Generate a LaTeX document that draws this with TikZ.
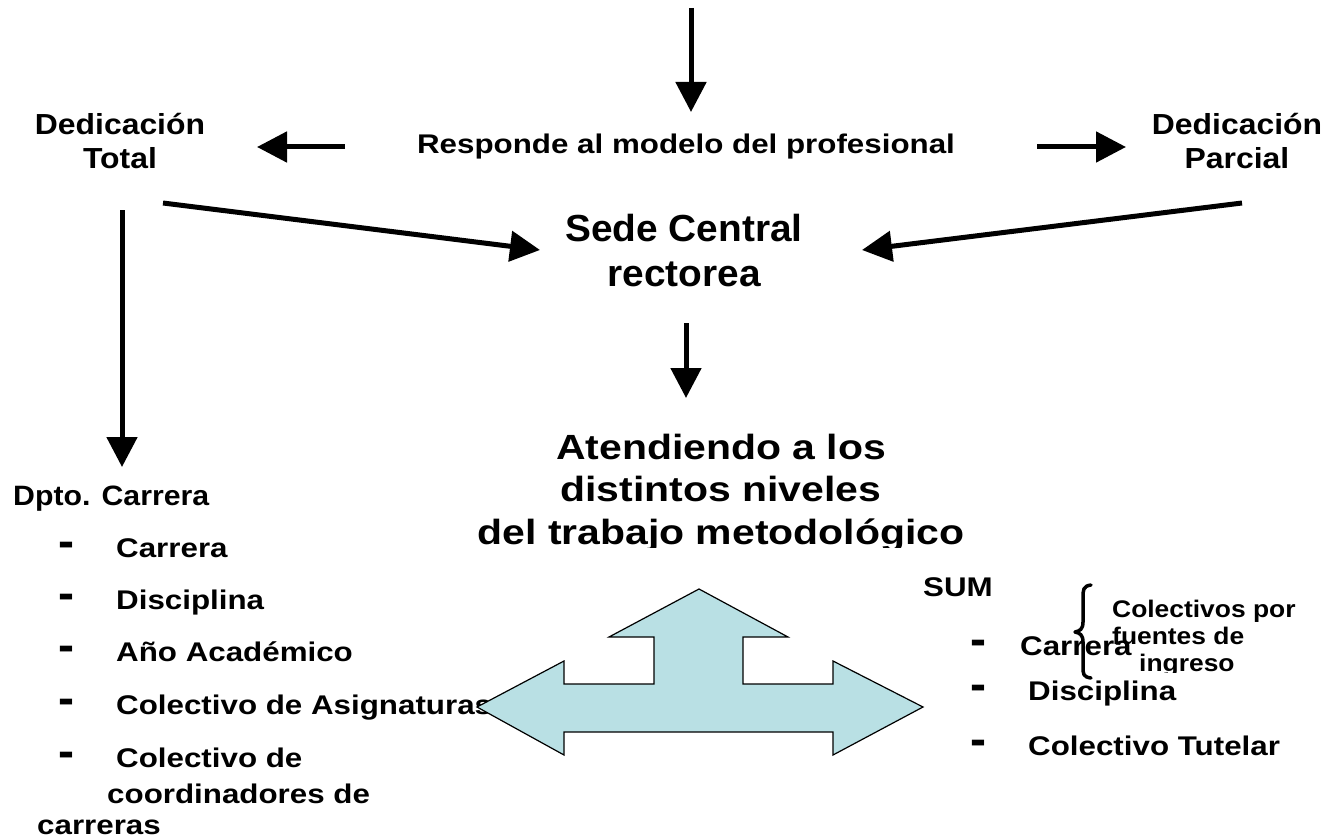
\documentclass[tikz,border=0pt]{standalone}
\usepackage{fontspec}
\setmainfont{Liberation Sans}
\newfontfamily\dedfont[FakeStretch=1.10]{Liberation Sans}
\newfontfamily\respfont[FakeStretch=1.16]{Liberation Sans}
\newfontfamily\sedefont[FakeStretch=1.03]{Liberation Sans}
\newfontfamily\atenfont[FakeStretch=1.17]{Liberation Sans}
\newfontfamily\dptofont[FakeStretch=1.08]{Liberation Sans}
\newfontfamily\listfont[FakeStretch=1.16]{Liberation Sans}
\usetikzlibrary{arrows.meta}
\definecolor{crossfill}{RGB}{185,224,228}

\begin{document}
\begin{tikzpicture}
      [x=1pt, y=-1pt,
       dedic/.style={
           font=\dedfont\bfseries\fontsize{29pt}{34pt}\selectfont,
           align=center, inner sep=0pt
         },
       title/.style={
           font=\sedefont\bfseries\fontsize{37.7pt}{45pt}\selectfont,
           align=center, inner sep=0pt
         },
       levels/.style={
           font=\atenfont\bfseries\fontsize{35pt}{42.5pt}\selectfont,
           align=center, inner sep=0pt
         },
       item/.style={
           font=\listfont\bfseries\fontsize{27pt}{30pt}\selectfont,
           inner sep=0pt, anchor=base west
         },
       bullet/.style={
           font=\bfseries\fontsize{48pt}{48pt}\selectfont,
           inner sep=0pt, anchor=base west
         },
       fat/.style={
           draw=black, line width=5pt,
           -{Triangle[length=30pt,width=30pt]}
         },
       ]
    \useasboundingbox (0,0) rectangle (1328,840);

    % upper part
    \node [font=\respfont\bfseries\fontsize{27pt}{31pt}\selectfont, inner sep=0pt]
      (model) at (686,147) {Responde al modelo del profesional};
    \node [dedic] (total) at (120,141) {Dedicación\\Total};
    \node [dedic] (partial) at (1237,141) {Dedicación\\Parcial};
    \node [title] (central) at (684,251) {Sede Central\\rectorea};

    \coordinate (in) at (691,8);
    \coordinate (in end) at (691,112);
    \coordinate (left start) at (345,147);
    \coordinate (left end) at (257,147);
    \coordinate (right start) at (1037,147);
    \coordinate (right end) at (1126,147);
    \coordinate (tot start) at (163,203);
    \coordinate (tot end) at (540,250);
    \coordinate (par start) at (1242,203);
    \coordinate (par end) at (862,250);
    \coordinate (down start) at (122,210);
    \coordinate (down end) at (122,467);
    \coordinate (mid start) at (686,323);
    \coordinate (mid end) at (686,398);

    \path (in) edge [fat] (in end);
    \path (left start) edge [fat] (left end);
    \path (right start) edge [fat] (right end);
    \path (tot start) edge [fat] (tot end);
    \path (par start) edge [fat] (par end);
    \path (down start) edge [fat] (down end);
    \path (mid start) edge [fat] (mid end);

    \begin{scope}
      \clip (400,400) rectangle (1000,547);
      \node [levels] (levels) at (721,493)
        {Atendiendo a los\\distintos niveles\\del trabajo metodológico};
    \end{scope}

    % Dpto. Carrera
    \node [item, font=\dptofont\bfseries\fontsize{28pt}{32pt}\selectfont]
      (dpto) at (13,505) {Dpto. Carrera};
    \node [bullet] (b1) at (58,557) {-};
    \node [item] (carrera) at (116,557) {Carrera};
    \node [bullet] (b2) at (58,609) {-};
    \node [item] (disc) at (116,609) {Disciplina};
    \node [bullet] (b3) at (58,661) {-};
    \node [item] (anio) at (116,661) {Año Académico};
    \node [bullet] (b4) at (58,714) {-};
    \node [item] (asig) at (116,714) {Colectivo de Asignaturas};
    \node [bullet] (b5) at (58,767) {-};
    \node [item] (coord) at (116,767) {Colectivo de};
    \node [item] (coord2) at (107,803) {coordinadores de};
    \node [item] (coord3) at (37,834) {carreras};

    % SUM
    \node [item] (sum) at (923,596) {SUM};
    \node [bullet] (s1) at (970,655) {-};
    \node [item] (scarrera) at (1020,655) {Carrera};
    \node [bullet] (s2) at (970,700) {-};
    \node [item] (sdisc) at (1028,700) {Disciplina};
    \node [bullet] (s3) at (970,755) {-};
    \node [item] (tutor) at (1028,755) {Colectivo Tutelar};

    \begin{scope}
      \clip (1090,580) rectangle (1328,672);
      \node [font=\dedfont\bfseries\fontsize{24pt}{27pt}\selectfont,
             align=left, inner sep=0pt, anchor=north west]
        (fuentes) at (1112,600) {Colectivos por\\fuentes de\\\hspace*{27pt}ingreso};
    \end{scope}
    \draw [line width=3.5pt, line cap=round, line join=round]
      (1091,585) .. controls (1083,586) and (1083,590) .. (1083,598)
      -- (1083,622) .. controls (1083,629) and (1080,631) .. (1075,632)
      .. controls (1080,633) and (1083,635) .. (1083,642)
      -- (1083,666) .. controls (1083,674) and (1083,677) .. (1091,678);

    % double arrow
    \draw [fill=crossfill, line width=1.2pt]
      (477,707) -- (564,661) -- (564,684) -- (654,684) -- (654,637)
      -- (609,637) -- (699,589) -- (788,637) -- (743,637) -- (743,684)
      -- (833,684) -- (833,661) -- (923,707) -- (833,755) -- (833,732)
      -- (564,732) -- (564,755) -- cycle;
  \end{tikzpicture}
\end{document}
